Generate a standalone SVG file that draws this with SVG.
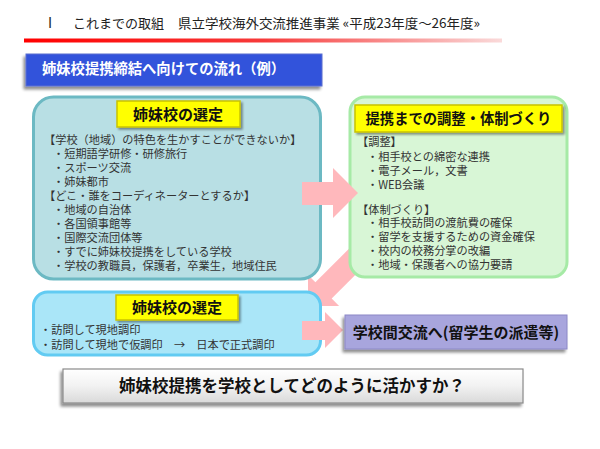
<svg xmlns="http://www.w3.org/2000/svg" width="600" height="449" viewBox="0 0 600 449">
<defs>
<linearGradient id="redline" x1="0" x2="1" y1="0" y2="0">
<stop offset="0" stop-color="#FF0000"/>
<stop offset="0.5" stop-color="#F73A3A"/>
<stop offset="1" stop-color="#FADADA"/>
</linearGradient>
<linearGradient id="grayfill" x1="0" x2="0" y1="0" y2="1">
<stop offset="0" stop-color="#FFFFFF"/>
<stop offset="0.5" stop-color="#F2F2F2"/>
<stop offset="1" stop-color="#D9D9D9"/>
</linearGradient>
<filter id="shadow" x="-10%" y="-30%" width="120%" height="160%">
<feGaussianBlur in="SourceAlpha" stdDeviation="1.5"/>
<feOffset dx="-2" dy="3" result="b"/>
<feComponentTransfer><feFuncA type="linear" slope="0.45"/></feComponentTransfer>
<feMerge><feMergeNode/><feMergeNode in="SourceGraphic"/></feMerge>
</filter>
<filter id="shadow2" x="-10%" y="-30%" width="120%" height="160%">
<feGaussianBlur in="SourceAlpha" stdDeviation="1.2"/>
<feOffset dx="1.5" dy="2" result="b"/>
<feComponentTransfer><feFuncA type="linear" slope="0.4"/></feComponentTransfer>
<feMerge><feMergeNode/><feMergeNode in="SourceGraphic"/></feMerge>
</filter>
</defs>
<style>
text{font-family:"Noto Sans CJK JP","Noto Sans",sans-serif;}
.title{font-size:13px;fill:#222;}
.body{font-size:11.2px;fill:#333;}
.lbl{font-size:15px;font-weight:bold;fill:#111;text-anchor:middle;}
.ylbl{fill:#FFFF00;stroke:#C9C200;stroke-width:1.5;}
.arrow{fill:#FFB8BC;}
</style>
<rect width="600" height="449" fill="#FFFFFF"/>
<g id="header">
<text x="48" y="28" font-family="Liberation Serif, serif" font-size="14" fill="#222">I</text>
<text class="title" x="73" y="28">これまでの取組</text>
<text class="title" x="178" y="28" textLength="302" lengthAdjust="spacingAndGlyphs">県立学校海外交流推進事業 «平成23年度～26年度»</text>
<rect x="24" y="38.5" width="478" height="4" fill="url(#redline)"/>
</g>
<g id="banner">
<rect x="26" y="54" width="296" height="32" fill="#3352DB" stroke="#5A6FD0" stroke-width="1" filter="url(#shadow)"/>
<text x="42" y="74" font-size="14.3" font-weight="bold" fill="#FFFFFF">姉妹校提携締結へ向けての流れ（例）</text>
</g>
<g id="connectors">
<polygon class="arrow" transform="translate(308,306) rotate(135)" points="0,0 -22,-22 -22,-11.5 -80,-11.5 -80,11.5 -22,11.5 -22,22"/>
</g>
<g id="node-selection1">
<rect x="33.5" y="97" width="287" height="182" rx="20" fill="#B8DFE4" stroke="#6CB9C3" stroke-width="3"/>
<rect class="ylbl" x="117" y="101" width="123" height="26" filter="url(#shadow2)"/>
<text class="lbl" x="178" y="120">姉妹校の選定</text>
<text class="body" x="44" y="144">【学校（地域）の特色を生かすことができないか】</text>
<text class="body" x="53" y="158">・短期語学研修・研修旅行</text>
<text class="body" x="53" y="172">・スポーツ交流</text>
<text class="body" x="53" y="186">・姉妹都市</text>
<text class="body" x="44" y="200">【どこ・誰をコーディネーターとするか】</text>
<text class="body" x="53" y="214">・地域の自治体</text>
<text class="body" x="53" y="228">・各国領事館等</text>
<text class="body" x="53" y="242">・国際交流団体等</text>
<text class="body" x="53" y="256">・すでに姉妹校提携をしている学校</text>
<text class="body" x="53" y="270">・学校の教職員，保護者，卒業生，地域住民</text>
</g>
<g id="node-coordination">
<rect x="350" y="97" width="217" height="180" rx="15" fill="#D8F6D6" stroke="#A6EAA6" stroke-width="3"/>
<rect class="ylbl" x="355" y="105" width="207" height="27" filter="url(#shadow2)"/>
<text class="lbl" x="458.5" y="124" style="font-size:14.3px">提携までの調整・体制づくり</text>
<text class="body" x="357" y="146">【調整】</text>
<text class="body" x="367" y="161">・相手校との綿密な連携</text>
<text class="body" x="367" y="175">・電子メール，文書</text>
<text class="body" x="367" y="189">・WEB会議</text>
<text class="body" x="357" y="214">【体制づくり】</text>
<text class="body" x="367" y="227">・相手校訪問の渡航費の確保</text>
<text class="body" x="367" y="241">・留学を支援するための資金確保</text>
<text class="body" x="367" y="255">・校内の校務分掌の改編</text>
<text class="body" x="367" y="269">・地域・保護者への協力要請</text>
</g>
<g id="node-selection2">
<rect x="33.5" y="292" width="287" height="63" rx="14" fill="#AAE6F8" stroke="#62CBF2" stroke-width="3"/>
<rect class="ylbl" x="116" y="295" width="122" height="25" filter="url(#shadow2)"/>
<text class="lbl" x="177" y="313">姉妹校の選定</text>
<text class="body" x="40" y="334">・訪問して現地調印</text>
<text class="body" x="40" y="349">・訪問して現地で仮調印　→　日本で正式調印</text>
</g>
<g id="connectors-front">
<polygon class="arrow" points="302,182 333,182 333,168 358,193 333,218 333,205 302,205"/>
<polygon class="arrow" points="302,321 325,321 325,312 343,330 325,348 325,340 302,340"/>
</g>
<g id="node-exchange">
<rect x="345" y="315" width="222" height="34" fill="#A8A5DD" stroke="#8C88C6" stroke-width="1" filter="url(#shadow)"/>
<text class="lbl" x="456" y="338">学校間交流へ(留学生の派遣等)</text>
</g>
<g id="node-question">
<rect x="63" y="369" width="460" height="34" fill="url(#grayfill)" stroke="#8A8A8A" stroke-width="1.2" filter="url(#shadow)"/>
<text class="lbl" x="292" y="392" style="font-size:16.5px">姉妹校提携を学校としてどのように活かすか？</text>
</g>
</svg>
